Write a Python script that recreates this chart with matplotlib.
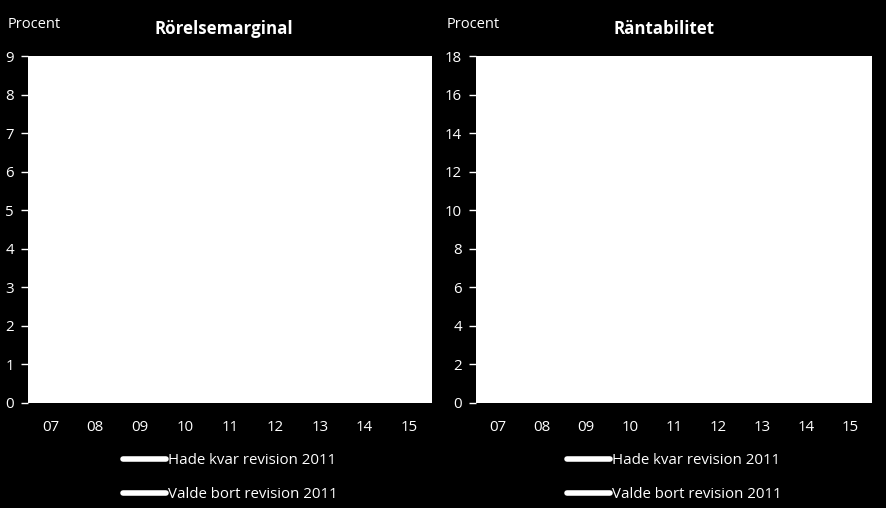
import matplotlib.pyplot as plt

# år (etiketter) och serier - linjerna är vita på vit bakgrund i originalet
years = ['07', '08', '09', '10', '11', '12', '13', '14', '15']
marginal_kvar = [6.2, 5.8, 4.9, 5.4, 5.6, 5.3, 5.2, 5.5, 5.7]
marginal_bort = [6.6, 6.1, 5.0, 5.9, 6.0, 5.6, 5.5, 5.9, 6.2]
rant_kvar = [13.5, 12.4, 9.8, 11.2, 11.5, 10.6, 10.3, 10.9, 11.4]
rant_bort = [14.8, 13.6, 10.4, 12.5, 12.9, 11.8, 11.3, 12.0, 12.6]

labels = ['Hade kvar revision 2011', 'Valde bort revision 2011']

plt.rcParams['font.family'] = ['Open Sans', 'DejaVu Sans']

fig = plt.figure(figsize=(8.87, 5.08), dpi=100, facecolor='black')
ax1 = fig.add_axes([28/887, 1-403/508, 404/887, 347/508])
ax2 = fig.add_axes([476/887, 1-403/508, 396/887, 347/508])

panels = [
    (ax1, marginal_kvar, marginal_bort, 9, 1, 'Rörelsemarginal', 224, 8),
    (ax2, rant_kvar, rant_bort, 18, 2, 'Räntabilitet', 664, 447),
]

for ax, s1, s2, ymax, step, title, tx, px in panels:
    x = range(len(years))
    ax.set_facecolor('white')
    ax.plot(x, s1, color='white', lw=3, label=labels[0], solid_capstyle='round')
    ax.plot(x, s2, color='white', lw=3, label=labels[1], solid_capstyle='round')
    ax.set_xlim(-0.5, len(years) - 0.5)
    ax.set_ylim(0, ymax)
    ax.set_yticks(range(0, ymax + 1, step))
    ax.set_xticks(list(x))
    ax.set_xticklabels(years)
    for sp in ax.spines.values():
        sp.set_visible(False)
    ax.tick_params(axis='y', colors='white', labelcolor='white', length=5, width=1,
                   labelsize=10.8, pad=5)
    ax.tick_params(axis='x', length=0, labelcolor='white', labelsize=10.8, pad=12)
    leg = ax.legend(loc='upper center', bbox_to_anchor=(0.5, -0.105), frameon=False,
                    handlelength=2.9, handletextpad=0.1, labelspacing=1.3,
                    fontsize=10.8, labelcolor='white')
    for h in leg.legend_handles:
        h.set_linewidth(4)
    fig.text(tx/887, 1-29/508, title, color='white', fontsize=12.2, fontweight='bold',
             ha='center', va='center')
    fig.text(px/887, 1-24/508, 'Procent', color='white', fontsize=10.5, ha='left', va='center')

plt.savefig('out.png', dpi=100, facecolor='black')
